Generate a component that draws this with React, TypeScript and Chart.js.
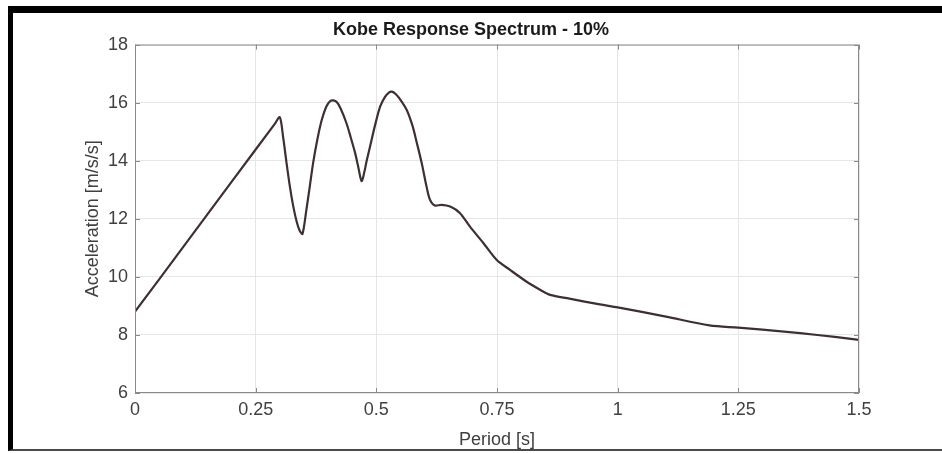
import React, { useEffect, useRef } from "react";
import { Chart, registerables } from "chart.js";

Chart.register(...registerables);

const periods = [
  0, 0.1, 0.2, 0.29, 0.3, 0.307, 0.314, 0.321, 0.328, 0.335, 0.341, 0.347, 0.355,
  0.362, 0.369, 0.378, 0.387, 0.396, 0.404, 0.411, 0.418, 0.426, 0.438, 0.447,
  0.456, 0.463, 0.4695, 0.475, 0.48, 0.487, 0.497, 0.508, 0.518, 0.526, 0.532,
  0.54, 0.55, 0.563, 0.575, 0.584, 0.594, 0.604, 0.611, 0.621, 0.635, 0.653,
  0.673, 0.694, 0.722, 0.749, 0.777, 0.81, 0.84, 0.86, 0.9, 0.963, 1.0, 1.1,
  1.19, 1.25, 1.3, 1.378, 1.45, 1.5,
];
const acceleration = [
  8.8, 11.03, 13.27, 15.28, 15.5, 14.8, 13.92, 13.1, 12.42, 11.9, 11.6, 11.48,
  12.3, 13.1, 13.92, 14.75, 15.41, 15.85, 16.05, 16.08, 16.02, 15.8, 15.3, 14.8,
  14.27, 13.75, 13.3, 13.6, 14.0, 14.49, 15.2, 15.87, 16.2, 16.35, 16.38, 16.3,
  16.1, 15.75, 15.2, 14.61, 13.92, 13.11, 12.66, 12.46, 12.48, 12.42, 12.2,
  11.73, 11.16, 10.59, 10.24, 9.85, 9.55, 9.38, 9.25, 9.05, 8.95, 8.63, 8.33,
  8.25, 8.18, 8.06, 7.93, 7.83,
];
const xTicks = [0, 0.25, 0.5, 0.75, 1, 1.25, 1.5];
const yTicks = [6, 8, 10, 12, 14, 16, 18];

const chartTitle = "Kobe Response Spectrum - 10%";
const xTitle = "Period [s]";
const yTitle = "Acceleration [m/s/s]";

const FONT = "'Liberation Sans', Arial, Helvetica, sans-serif";

const boxPlugin = {
  id: "matlabBox",
  afterDraw(chart: any) {
    const { ctx, chartArea, scales } = chart;
    const { left, right, top, bottom } = chartArea;
    ctx.save();
    ctx.strokeStyle = "#8a8a8a";
    ctx.lineWidth = 1;
    ctx.strokeRect(left + 0.5, top + 0.5, right - left - 1, bottom - top - 1);
    const len = 5;
    ctx.beginPath();
    xTicks.forEach((v) => {
      const px = Math.round(scales.x.getPixelForValue(v)) + 0.5;
      ctx.moveTo(px, bottom);
      ctx.lineTo(px, bottom - len);
      ctx.moveTo(px, top);
      ctx.lineTo(px, top + len);
    });
    yTicks.forEach((v) => {
      const py = Math.round(scales.y.getPixelForValue(v)) + 0.5;
      ctx.moveTo(left, py);
      ctx.lineTo(left + len, py);
      ctx.moveTo(right, py);
      ctx.lineTo(right - len, py);
    });
    ctx.stroke();
    ctx.restore();
  },
};

export default function App() {
  const ref = useRef<HTMLCanvasElement | null>(null);

  useEffect(() => {
    if (!ref.current) return;
    const points = periods.map((p, i) => ({ x: p, y: acceleration[i] }));
    const chart = new Chart(ref.current, {
      type: "line",
      data: {
        datasets: [
          {
            data: points,
            borderColor: "#3e2f31",
            borderWidth: 2.2,
            pointRadius: 0,
            tension: 0.3,
            fill: false,
            yAxisID: "y",
          },
        ],
      },
      options: {
        animation: false,
        responsive: false,
        maintainAspectRatio: false,
        layout: { padding: 0 },
        plugins: {
          legend: { display: false },
          tooltip: { enabled: false },
          title: {
            display: true,
            text: chartTitle,
            color: "#1a1a1a",
            font: { family: FONT, size: 18, weight: "bold" },
            padding: { top: 19, bottom: 4 },
          },
        },
        scales: {
          x: {
            type: "linear",
            min: 0,
            max: 1.5,
            afterBuildTicks(scale: any) {
              scale.ticks = xTicks.map((v) => ({ value: v }));
            },
            afterFit(scale: any) {
              scale.height = 60;
            },
            grid: { color: "#e6e6e6", drawTicks: false },
            border: { display: false },
            ticks: {
              color: "#404040",
              padding: 6,
              maxRotation: 0,
              font: { family: FONT, size: 18 },
              callback: (v: any) => String(v),
            },
            title: {
              display: true,
              text: xTitle,
              color: "#404040",
              font: { family: FONT, size: 18 },
              padding: { top: 2, bottom: 2 },
            },
          },
          y: {
            min: 6,
            max: 18,
            afterBuildTicks(scale: any) {
              scale.ticks = yTicks.map((v) => ({ value: v }));
            },
            afterFit(scale: any) {
              scale.width = 135;
            },
            grid: { color: "#e6e6e6", drawTicks: false },
            border: { display: false },
            ticks: {
              color: "#404040",
              padding: 7,
              font: { family: FONT, size: 18 },
            },
            title: {
              display: true,
              text: yTitle,
              color: "#404040",
              font: { family: FONT, size: 18 },
              padding: { top: 82, bottom: 0 },
            },
          },
          yRight: {
            position: "right",
            min: 6,
            max: 18,
            afterFit(scale: any) {
              scale.width = 83;
            },
            grid: { display: false, drawTicks: false },
            border: { display: false },
            ticks: { display: false },
          },
        },
      },
      plugins: [boxPlugin],
    });
    return () => chart.destroy();
  }, []);

  return (
    <div
      style={{
        position: "fixed",
        left: 0,
        top: 0,
        width: 942,
        height: 453,
        background: "#ffffff",
        overflow: "hidden",
      }}
    >
      <canvas
        ref={ref}
        width={942}
        height={453}
        style={{ position: "absolute", left: 0, top: 0, width: 942, height: 453 }}
      />
      <div
        style={{
          position: "absolute",
          left: 8,
          top: 6,
          width: 940,
          height: 445,
          boxSizing: "border-box",
          borderTop: "7px solid #000",
          borderLeft: "5px solid #000",
          borderBottom: "2px solid #4a4a4a",
          pointerEvents: "none",
        }}
      />
    </div>
  );
}
